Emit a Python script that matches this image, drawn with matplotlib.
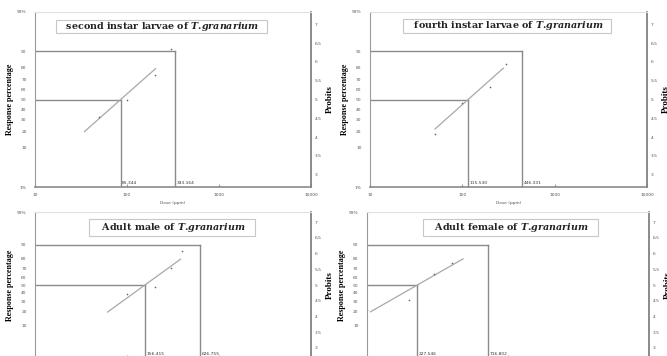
import math
from statistics import NormalDist
import matplotlib
matplotlib.use("Agg")
import matplotlib.pyplot as plt

plt.rcParams['mathtext.fontset'] = 'custom'
plt.rcParams['mathtext.it'] = 'DejaVu Serif:italic:bold'
plt.rcParams['mathtext.rm'] = 'DejaVu Serif:bold'

titles = ["second instar larvae of", "fourth instar larvae of",
          "Adult male of", "Adult female of"]
species = r"T.\!granarium"

# doses (ppm) and observed mortality (%) per stage
doses_l2 = [50, 100, 200, 300]
mort_l2 = [32, 50, 74, 91]
doses_l4 = [50, 100, 200, 300]
mort_l4 = [18, 46, 63, 83]
doses_male = [100, 200, 300, 400]
mort_male = [39, 48, 71, 86]
doses_female = [100, 200, 300, 400]
mort_female = [21, 32, 64, 76]

lc50 = [85.344, 115.530, 156.415, 227.546]
lc90 = [333.164, 446.331, 626.755, 716.802]

# dose range covered by the fitted regression line
line_from = [34.5, 50.6, 61.5, 106]
line_to = [204, 278, 382, 480]

x_min = [10, 10, 10, 100]
x_max = [10000, 10000, 10000, 10000]

pct_ticks = [1, 10, 20, 30, 40, 50, 60, 70, 80, 90, 99]
pct_labels = ["1%", "10", "20", "30", "40", "50", "60", "70", "80", "90", "99%"]
probit_ticks = [3, 3.5, 4, 4.5, 5, 5.5, 6, 6.5, 7]

nd = NormalDist()


def probit(p):
  return nd.inv_cdf(p / 100.0) + 5


def draw_panel(fig, rect, i, doses, mort, title_pad, title_pos):
  ax = fig.add_axes(rect)
  ax.set_xscale('log')
  ax.set_xlim(x_min[i], x_max[i])
  ylo, yhi = probit(1), probit(99)
  ax.set_ylim(ylo, yhi)

  grey = '#8a8a8a'
  # LC50 / LC90 guide lines
  for lc, p in [(lc50[i], 50), (lc90[i], 90)]:
    y = probit(p)
    ax.plot([x_min[i], lc], [y, y], color=grey, lw=1.0)
    ax.plot([lc, lc], [ylo, y], color=grey, lw=1.0)
    ax.text(lc * 1.03, ylo + 0.05, "%.3f" % lc, fontsize=3.2, color='#333333',
            va='bottom', ha='left')

  # fitted probit line
  b = 1.2816 / math.log10(lc90[i] / lc50[i])
  xs = [line_from[i], line_to[i]]
  ys = [5 + b * math.log10(x / lc50[i]) for x in xs]
  ax.plot(xs, ys, color='#a8a8a8', lw=0.9)

  ax.plot(doses, [probit(m) for m in mort], 'o', ms=1.2, color='#666666', mec='none')

  ax.set_yticks([probit(p) for p in pct_ticks])
  ax.set_yticklabels(pct_labels)
  ax.tick_params(axis='y', length=0, labelsize=3.2, labelcolor='#555555', pad=6)
  ax.tick_params(axis='x', which='major', direction='in', length=2, color='#999999',
                 labelsize=3.2, labelcolor='#555555', pad=4)
  ax.tick_params(axis='x', which='minor', length=0)
  ax.set_xticklabels([str(int(t)) for t in ax.get_xticks()])
  ax.set_xlim(x_min[i], x_max[i])

  ax.spines['top'].set_color('#e0e0e0')
  ax.spines['left'].set_color('#9a9a9a')
  ax.spines['bottom'].set_color('#8a8a8a')
  ax.spines['right'].set_color('#777777')
  ax.spines['bottom'].set_linewidth(1.2)
  ax.spines['right'].set_linewidth(1.2)

  ax2 = ax.twinx()
  ax2.set_ylim(ylo, yhi)
  ax2.set_yticks(probit_ticks)
  ax2.set_yticklabels([("%g" % t) for t in probit_ticks])
  ax2.tick_params(axis='y', length=0, labelsize=3.2, labelcolor='#555555', pad=2.5)
  for s in ax2.spines.values():
    s.set_visible(False)

  ax.set_ylabel("Response percentage", family='Liberation Serif', weight='bold',
                fontsize=5.8, labelpad=2.5)
  ax2.set_ylabel("Probits", family='Liberation Serif', weight='bold',
                 fontsize=6.5, labelpad=3)
  ax.set_xlabel("Dose (ppm)", fontsize=3.2, color='#555555', labelpad=3)

  ax.text(title_pos[0], title_pos[1],
          "   " + titles[i] + " $\\mathit{" + species + "}$   ",
          transform=ax.transAxes, ha='center', va='center',
          family='DejaVu Serif', weight='bold', fontsize=6.8,
          color='#222222',
          bbox=dict(boxstyle='square,pad=%g' % title_pad, fc='white', ec='#c8c8c8', lw=0.8))
  return ax


def main():
  fig = plt.figure(figsize=(6.67, 3.56), dpi=100)
  draw_panel(fig, [0.0525, 0.4747, 0.4138, 0.4916], 0, doses_l2, mort_l2, 0.05, (0.458, 0.917))
  draw_panel(fig, [0.5547, 0.4747, 0.4153, 0.4916], 1, doses_l4, mort_l4, 0.05, (0.496, 0.92))
  draw_panel(fig, [0.0525, -0.0056, 0.4138, 0.41], 2, doses_male, mort_male, 0.25, (0.496, 0.894))
  draw_panel(fig, [0.5502, -0.0056, 0.4228, 0.41], 3, doses_female, mort_female, 0.25, (0.509, 0.894))
  fig.savefig("out.png", dpi=100)


if __name__ == '__main__':
  main()
